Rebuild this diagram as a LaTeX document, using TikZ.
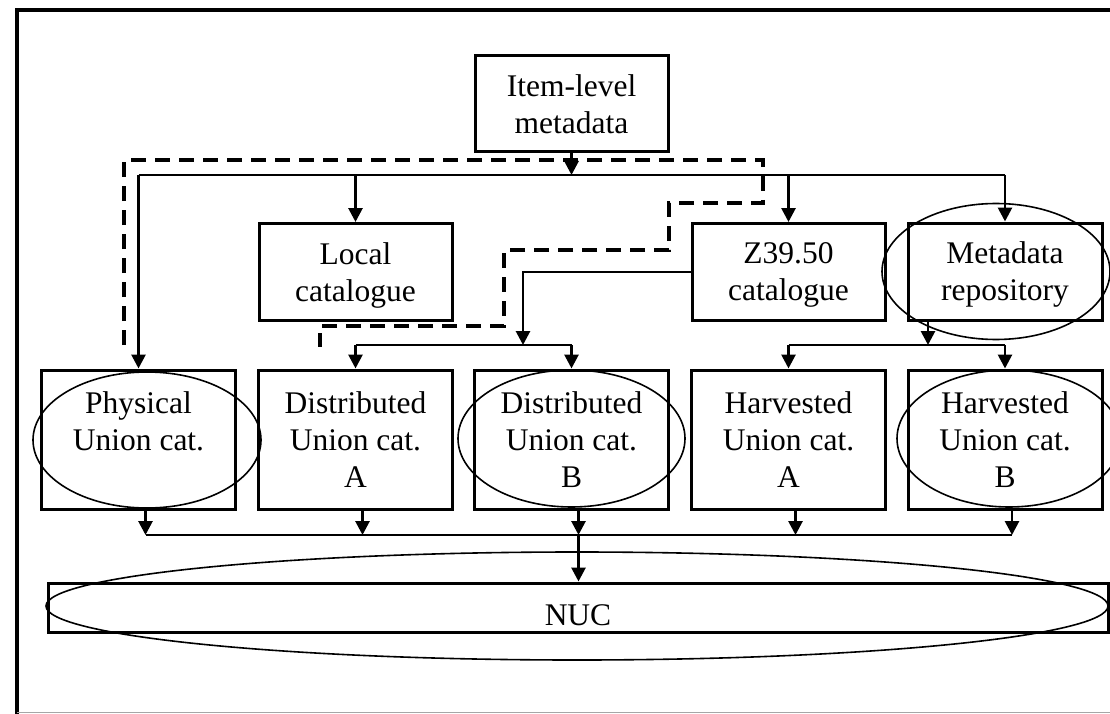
\documentclass[tikz,border=0pt]{standalone}
\usepackage{fontspec}
\setmainfont{Liberation Serif}
\usetikzlibrary{arrows.meta,shapes.geometric}
\begin{document}
\begin{tikzpicture}[x=1pt,y=-1pt,
  box/.style={draw,line width=3pt,rectangle,inner sep=0pt,align=center,
    font=\fontsize{31.5}{37}\selectfont},
  toprow/.style={box,minimum width=193pt,minimum height=97pt,text depth=0pt},
  botrow/.style={box,minimum width=194pt,minimum height=139pt},
  ring/.style={draw,line width=1.6pt,ellipse,inner sep=0pt},
  wire/.style={line width=2.8pt},
  arr/.style={line width=2.8pt,-{Triangle[length=14pt,width=14pt]}},
  dashroute/.style={line width=3.2pt,dash pattern=on 15pt off 9pt},
  frameline/.style={line width=4pt}]
\useasboundingbox (0,0) rectangle (1110,714);
% frame
\draw[frameline] (17,714) -- (17,10) -- (1110,10);
\draw[black!35,line width=1.5pt] (17,712.5) -- (1110,712.5);
% top row
\node[toprow,minimum height=96pt] (item) at (571.5,104) {Item-level\\metadata};
\node[toprow] (local) at (355.5,272) {Local\\catalogue};
\node[toprow] (z39) at (788.5,272) {Z39.50\\catalogue};
\node[toprow,minimum width=194pt] (meta) at (1005,271.5) {Metadata\\repository};
% second row
\node[botrow] (phys) at (138.5,439.5) {Physical\\Union cat.\\\phantom{A}};
\node[botrow] (distA) at (355.5,439.5) {Distributed\\Union cat.\\A};
\node[botrow] (distB) at (571.5,439.5) {Distributed\\Union cat.\\B};
\node[botrow] (harvA) at (788.5,439.5) {Harvested\\Union cat.\\A};
\node[botrow] (harvB) at (1005,439.5) {Harvested\\Union cat.\\B};
% NUC
\node[box,minimum width=1060pt,minimum height=49pt,text depth=0pt,text height=35pt] (nuc) at (578,607.5) {NUC};
% ellipses
\node[ring,minimum width=228pt,minimum height=136pt] (metaE) at (996,271.5) {};
\node[ring,minimum width=228pt,minimum height=136pt] (physE) at (147,440) {};
\node[ring,minimum width=227pt,minimum height=137pt] (distBE) at (571.5,438.5) {};
\node[ring,minimum width=224pt,minimum height=137pt] (harvBE) at (1009,438.5) {};
\node[ring,minimum width=1062pt,minimum height=108pt] (nucE) at (577,606) {};
% bus coordinates
\coordinate (bus1) at (0,175);
\coordinate (bus2) at (0,345);
\coordinate (bus3) at (0,535);
% item-level metadata distribution
\draw[arr] (item.south) -- (item.south |- bus1);
\draw[wire] (phys.north |- bus1) -- (meta.north |- bus1);
\foreach \n in {phys,local,z39,meta} \draw[arr] (\n.north |- bus1) -- (\n.north);
% Z39.50 to distributed
\coordinate (zj) at (523,345);
\draw[arr] (z39.west) -| (zj);
\draw[wire] (distA.north |- bus2) -- (distB.north |- bus2);
\foreach \n in {distA,distB} \draw[arr] (\n.north |- bus2) -- (\n.north);
% repository to harvested
\coordinate (mj) at (928,345);
\draw[arr] (meta.south -| mj) -- (mj);
\draw[wire] (harvA.north |- bus2) -- (harvB.north |- bus2);
\foreach \n in {harvA,harvB} \draw[arr] (\n.north |- bus2) -- (\n.north);
% to NUC
\foreach \n in {phys,distA,distB,harvA,harvB}
  \draw[arr] ([xshift=7pt]\n.south) -- ([xshift=7pt]\n.south |- bus3);
\draw[wire] ([xshift=7pt]phys.south |- bus3) -- ([xshift=7pt]harvB.south |- bus3);
\draw[arr] ([xshift=7pt]distB.south |- bus3) -- ([xshift=7pt]distB.south |- nuc.north);
% dashed route
\coordinate (dA) at (124,345);
\coordinate (dB) at (320,347);
\draw[dashroute] (dA) -- (124,160) -- (763,160) -- (763,203) -- (669,203) -- (669,250)
  -- (504,250) -- (504,326) -- (320,326) -- (dB);
\end{tikzpicture}
\end{document}
